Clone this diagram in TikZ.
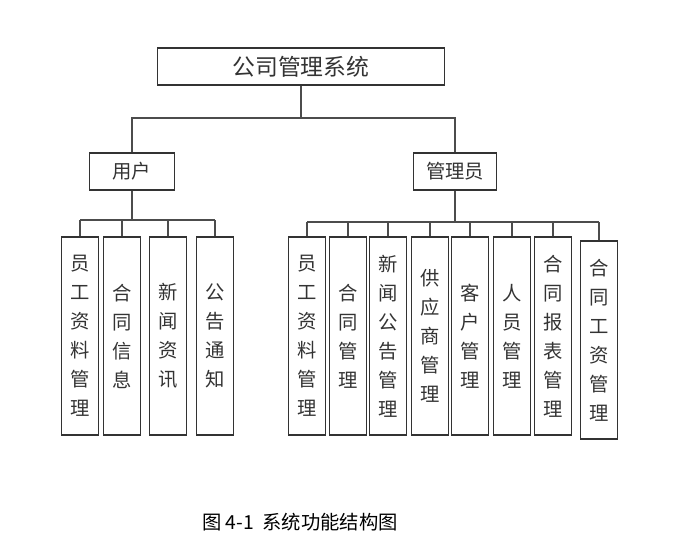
\documentclass[tikz,border=0pt]{standalone}
\usepackage{fontspec}
\newfontfamily\cjk{Noto Sans CJK SC}
\begin{document}
\begin{tikzpicture}[x=0.02cm,y=-0.02cm,
  box/.style={draw,black!80,thick,font=\cjk\fontsize{11}{14}\selectfont,inner sep=0pt},
  leaf/.style={box,minimum width=37*0.02cm,minimum height=198*0.02cm,align=center,
    font=\cjk\fontsize{11}{16.5}\selectfont},
  wire/.style={black!70,thick}]
  \useasboundingbox (0,0) rectangle (681,553);
  \node[box,minimum width=287*0.02cm,minimum height=37*0.02cm,font=\cjk\fontsize{13}{16}\selectfont] (top) at (301,66.5) {公司管理系统};
  \node[box,minimum width=85*0.02cm,minimum height=37*0.02cm] (user) at (132,171.5) {用户};
  \node[box,minimum width=83*0.02cm,minimum height=37*0.02cm] (admin) at (455,171.5) {管理员};
  \coordinate (busA) at (0,118);
  \coordinate (busU) at (0,220);
  \coordinate (busM) at (0,222);
  % user leaves
  \foreach \n/\x/\t in {u1/80/员\\工\\资\\料\\管\\理, u2/122/合\\同\\信\\息,
      u3/168/新\\闻\\资\\讯, u4/215/公\\告\\通\\知}
    \node[leaf] (\n) at (\x,336) {\t};
  % admin leaves
  \foreach \n/\x/\t in {m1/307/员\\工\\资\\料\\管\\理, m2/348/合\\同\\管\\理,
      m3/388/新\\闻\\公\\告\\管\\理, m4/430/供\\应\\商\\管\\理, m5/470/客\\户\\管\\理,
      m6/512/人\\员\\管\\理, m7/553/合\\同\\报\\表\\管\\理}
    \node[leaf] (\n) at (\x,336) {\t};
  \node[leaf] (m8) at (599,340) {合\\同\\工\\资\\管\\理};
  % connectors
  \draw[wire] (top.south) -- (top.south |- busA);
  \draw[wire] (user.north) -- (user.north |- busA) -- (admin.north |- busA) -- (admin.north);
  \draw[wire] (user.south) -- (user.south |- busU);
  \draw[wire] (u1.north |- busU) -- (u4.north |- busU);
  \foreach \n in {u1,u2,u3,u4}
    \draw[wire] (\n.north) -- (\n.north |- busU);
  \draw[wire] (admin.south) -- (admin.south |- busM);
  \draw[wire] (m1.north |- busM) -- (m8.north |- busM);
  \foreach \n in {m1,m2,m3,m4,m5,m6,m7,m8}
    \draw[wire] (\n.north) -- (\n.north |- busM);
  \node[font=\cjk\fontsize{11}{14}\selectfont] (cap) at (300,522) {图 4-1\ \ 系统功能结构图};
\end{tikzpicture}
\end{document}
